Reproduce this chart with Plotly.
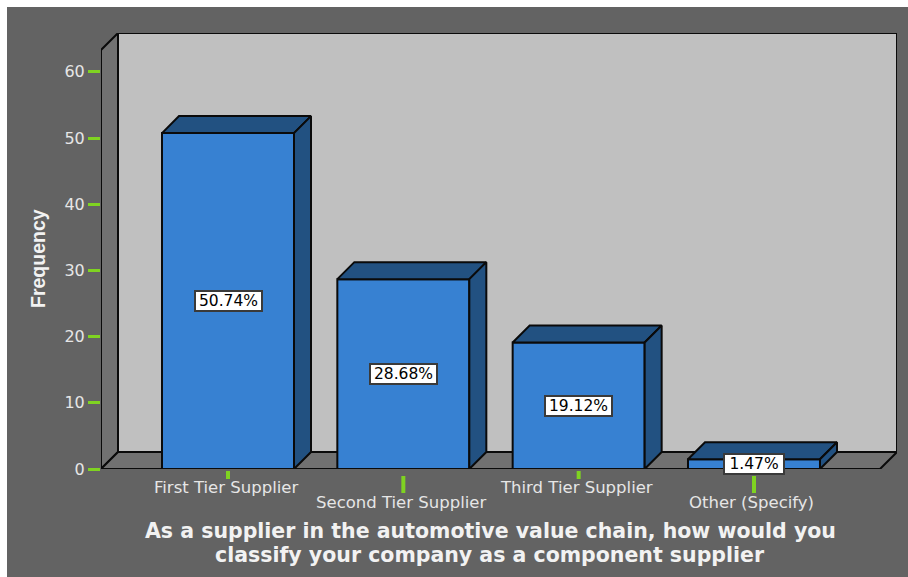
import plotly.graph_objects as go

categories = ["First Tier Supplier", "Second Tier Supplier", "Third Tier Supplier", "Other (Specify)"]
percent_values = [50.74, 28.68, 19.12, 1.47]
value_labels = ["50.74%", "28.68%", "19.12%", "1.47%"]
title_lines = ["As a supplier in the automotive value chain, how would you",
               "classify your company as a component supplier"]
y_ticks = [0, 10, 20, 30, 40, 50, 60]

# Plot frame in pixels and the scale of each axis
W, H = 908, 577
L, R, T, B = 101, 897, 33, 469
X_UNIT = 175.33          # pixels per category
Y_UNIT = 6.62            # pixels per frequency unit
FIRST_CENTRE = 228       # pixel position of the first category
DEPTH = 17               # oblique depth of the 3D box, pixels
BAR_W = 132 / X_UNIT

x_min = (L - FIRST_CENTRE) / X_UNIT
x_max = (R - FIRST_CENTRE) / X_UNIT
y_max = (B - T) / Y_UNIT
dx = DEPTH / X_UNIT
dy = DEPTH / Y_UNIT

BG = "#636363"
WALL = "#717171"
BACK = "#c0c0c0"
FRONT = "#3781d2"
SHADE = "#225181"
EDGE = "#0a0a0a"
TICK = "#7fd321"
TEXT = "#e6e6e6"
FONT = "DejaVu Sans"


def poly(points):
    return "M " + " L ".join(f"{x},{y}" for x, y in points) + " Z"


shapes = [
    # Dark panel behind everything, leaving a thin white strip top and left
    dict(type="rect", xref="paper", yref="paper", layer="below",
         x0=(7 - L) / (R - L), x1=(W - L) / (R - L),
         y0=(B - H) / (B - T), y1=(B - 7) / (B - T),
         fillcolor=BG, line_width=0),
    # Left wall
    dict(type="path", xref="x", yref="y", layer="below",
         path=poly([(x_min, 0), (x_min + dx, dy), (x_min + dx, y_max), (x_min, y_max - dy)]),
         fillcolor=WALL, line=dict(color=EDGE, width=2)),
    # Floor
    dict(type="path", xref="x", yref="y", layer="below",
         path=poly([(x_min, 0), (x_max - dx, 0), (x_max, dy), (x_min + dx, dy)]),
         fillcolor=WALL, line=dict(color=EDGE, width=2)),
    # Back wall
    dict(type="path", xref="x", yref="y", layer="below",
         path=poly([(x_min + dx, dy), (x_max, dy), (x_max, y_max), (x_min + dx, y_max)]),
         fillcolor=BACK, line=dict(color=EDGE, width=2)),
]

# Category ticks: the staggered labels get a longer tick
for i, _ in enumerate(categories):
    shapes.append(dict(type="line", xref="x", yref="paper", ysizemode="pixel", yanchor=0,
                       x0=i, x1=i, y0=-2 if i % 2 == 0 else -7, y1=-10 if i % 2 == 0 else -24,
                       line=dict(color=TICK, width=4)))

fig = go.Figure()

fig.add_bar(x=list(range(len(categories))), y=percent_values, width=BAR_W,
            marker=dict(color=FRONT, line=dict(color=EDGE, width=2)),
            cliponaxis=False, showlegend=False, hoverinfo="skip")

# Top and side faces of each bar, offset from the front face by the box depth
for i, v in enumerate(percent_values):
    left, right = i - BAR_W / 2, i + BAR_W / 2
    top_x = [left, right, right + dx, left + dx, left]
    top_y = [v, v, v + dy, v + dy, v]
    side_x = [right, right + dx, right + dx, right, right]
    side_y = [0, dy, v + dy, v, 0]
    for xs, ys in ((top_x, top_y), (side_x, side_y)):
        fig.add_scatter(x=xs, y=ys, mode="lines", fill="toself", fillcolor=SHADE,
                        line=dict(color=EDGE, width=2), showlegend=False, hoverinfo="skip")

annotations = []
for i, (v, lab) in enumerate(zip(percent_values, value_labels)):
    annotations.append(dict(x=i, y=v / 2, xref="x", yref="y", text=lab, showarrow=False,
                            font=dict(family=FONT, size=15.5, color="#000000"),
                            bgcolor="#ffffff", bordercolor="#3a3a3a", borderwidth=2,
                            borderpad=0, height=18, width=7 * len(lab) + 23, valign="middle"))
for i, cat in enumerate(categories):
    annotations.append(dict(x=i, y=0, xref="x", yref="paper", text=cat, showarrow=False,
                            yanchor="middle", xshift=-2, yshift=-18 if i % 2 == 0 else -33,
                            font=dict(family=FONT, size=16.5, color=TEXT)))
for line, shift in zip(title_lines, (-62, -86)):
    annotations.append(dict(x=(490 - L) / (R - L), y=0, xref="paper", yref="paper", text=line,
                            showarrow=False, yanchor="middle", yshift=shift,
                            font=dict(family=FONT, size=20.5, color="#f2f2f2", weight="bold")))
# Axis title sits a little below the middle of the axis
annotations.append(dict(x=(38 - L) / (R - L), y=(B - 259) / (B - T), xref="paper", yref="paper",
                        xanchor="center", yanchor="middle",
                        text="Frequency", showarrow=False, textangle=-90,
                        font=dict(family="Liberation Sans", size=19.5, color="#f2f2f2", weight="bold")))

fig.update_layout(
    width=W, height=H, autosize=False,
    margin=dict(l=L, r=W - R, t=T, b=H - B, pad=0),
    paper_bgcolor="#ffffff", plot_bgcolor="rgba(0,0,0,0)",
    shapes=shapes, annotations=annotations, showlegend=False,
    xaxis=dict(range=[x_min, x_max], showgrid=False, zeroline=False, showticklabels=False,
               ticks="", showline=False, fixedrange=True),
    yaxis=dict(range=[0, y_max], showgrid=False, zeroline=False, showline=False,
               tickmode="array", tickvals=y_ticks, ticks="outside", ticklen=12, tickwidth=3,
               tickcolor=TICK, tickfont=dict(family=FONT, size=16, color=TEXT), fixedrange=True),
)

fig.write_html("out.html", config=dict(displayModeBar=False))
